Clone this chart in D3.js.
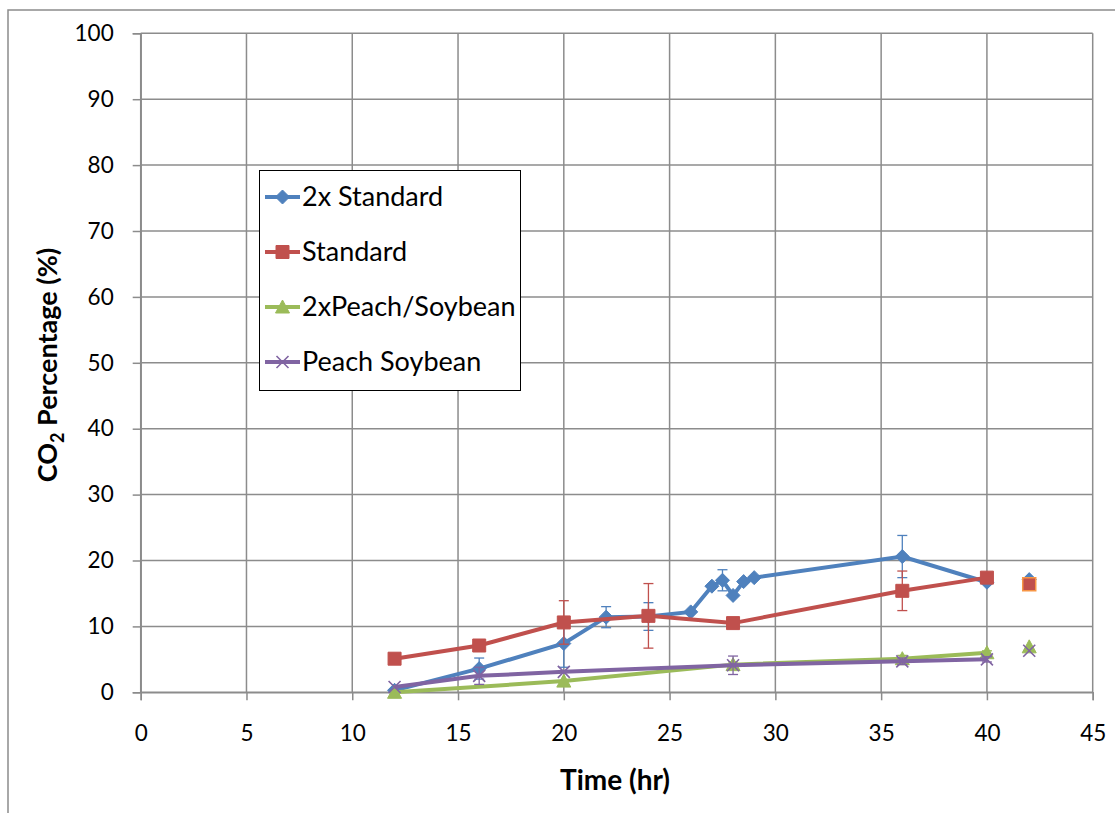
<!DOCTYPE html>
<html>
<head>
<meta charset="utf-8">
<script src="https://cdn.jsdelivr.net/npm/d3@7"></script>
<style>
  body { margin: 0; background: #fff; }
  text { font-family: Lato, "Open Sans", sans-serif; }
</style>
</head>
<body>
<div id="chart"></div>
<script>
// data (null = gap in the line, like Excel)
const std2xTime = [12, 16, 20, 22, 24, 26, 27, 27.5, 28, 28.5, 29, 36, 40, 41, 42];
const std2xCO2  = [0.3, 3.6, 7.4, 11.4, 11.5, 12.2, 16.1, 17.0, 14.7, 16.8, 17.4, 20.6, 16.7, null, 17.1];
const std2xErr  = [0, 1.6, 3.6, 1.6, 2.1, 0, 0, 1.6, 0, 0, 0, 3.2, 0, 0, 0];

const stdTime = [12, 16, 20, 24, 28, 36, 40, 41, 42];
const stdCO2  = [5.1, 7.1, 10.6, 11.6, 10.5, 15.4, 17.4, null, 16.4];
const stdErr  = [0, 0, 3.3, 4.9, 0, 3.0, 0, 0, 0];

const peach2xTime = [12, 20, 28, 36, 40, 41, 42];
const peach2xCO2  = [0, 1.7, 4.2, 5.1, 6.0, null, 6.9];
const peach2xErr  = [0, 0, 0.4, 0.5, 0.3, 0, 0];

const peachTime = [12, 16, 20, 28, 36, 40, 41, 42];
const peachCO2  = [0.8, 2.5, 3.1, 4.1, 4.7, 5.0, null, 6.3];
const peachErr  = [0, 1.3, 0, 1.4, 0.5, 0.4, 0, 0];

const seriesNames = ["2x Standard", "Standard", "2xPeach/Soybean", "Peach Soybean"];
const xTicks = d3.range(0, 46, 5);
const yTicks = d3.range(0, 101, 10);

const width = 1115, height = 813;
const margin = {left: 140.7, right: 1115 - 1092.7, top: 33.3, bottom: 813 - 692.3};

const colors = ["#4F81BD", "#C0504D", "#9BBB59", "#8064A2"];
const shapes = ["diamond", "square", "triangle", "cross"];

function pack(t, v, e) {
  return t.map((x, i) => ({x: x, y: v[i], err: e[i]}));
}
const series = [
  pack(std2xTime, std2xCO2, std2xErr),
  pack(stdTime, stdCO2, stdErr),
  pack(peach2xTime, peach2xCO2, peach2xErr),
  pack(peachTime, peachCO2, peachErr)
];

const svg = d3.select("#chart").append("svg")
  .attr("width", width).attr("height", height);

// chart area border
svg.append("rect")
  .attr("x", 8).attr("y", 10).attr("width", 1130).attr("height", 830)
  .attr("fill", "none").attr("stroke", "#8c8c8c").attr("stroke-width", 1.5);

let xScale = d3.scaleLinear().domain([0, 45]).range([margin.left, width - margin.right]);
let yScale = d3.scaleLinear().domain([0, 100]).range([height - margin.bottom, margin.top]);

// gridlines
svg.append("g").selectAll("line").data(yTicks).enter().append("line")
  .attr("x1", xScale(0)).attr("x2", xScale(45))
  .attr("y1", d => yScale(d)).attr("y2", d => yScale(d))
  .attr("stroke", "#8c8c8c").attr("stroke-width", 1.5);
svg.append("g").selectAll("line").data(xTicks).enter().append("line")
  .attr("y1", yScale(0)).attr("y2", yScale(100))
  .attr("x1", d => xScale(d)).attr("x2", d => xScale(d))
  .attr("stroke", "#8c8c8c").attr("stroke-width", 1.5);

// axes
const yAxis = svg.append("g")
  .attr("transform", `translate(${margin.left},0)`)
  .call(d3.axisLeft(yScale).tickValues(yTicks).tickSize(8).tickPadding(19));
const xAxis = svg.append("g")
  .attr("transform", `translate(0,${height - margin.bottom})`)
  .call(d3.axisBottom(xScale).tickValues(xTicks).tickSize(8).tickPadding(25));
[xAxis, yAxis].forEach(a => {
  a.select(".domain").attr("stroke", "#8c8c8c").attr("stroke-width", 1.5);
  a.selectAll(".tick line").attr("stroke", "#8c8c8c").attr("stroke-width", 1.5);
  a.selectAll("text").attr("font-size", "22.5px").attr("fill", "#000")
    .style("font-family", "Lato, sans-serif");
});

// axis titles
svg.append("text")
  .attr("x", 615).attr("y", 790)
  .attr("text-anchor", "middle")
  .attr("font-size", "28px").attr("font-weight", "bold")
  .text("Time (hr)");

const yTitle = svg.append("text")
  .attr("transform", "translate(57,365) rotate(-90)")
  .attr("text-anchor", "middle")
  .attr("font-size", "27px").attr("font-weight", "bold");
yTitle.append("tspan").text("CO");
yTitle.append("tspan").attr("font-size", "18px").attr("dy", 7).text("2");
yTitle.append("tspan").attr("dy", -7).text(" Percentage (%)");

function markerPath(shape) {
  if (shape === "diamond") return "M0,-7L7,0L0,7L-7,0Z";
  if (shape === "square") return "M-6.5,-6.5H6.5V6.5H-6.5Z";
  if (shape === "triangle") return "M0,-7L7,6H-7Z";
  return "M-6,-6L6,6M-6,6L6,-6";
}

function drawMarker(g, shape, color, extraStroke) {
  if (shape === "cross") {
    g.append("path").attr("d", markerPath(shape))
      .attr("stroke", color).attr("stroke-width", 1.6).attr("fill", "none");
  } else {
    g.append("path").attr("d", markerPath(shape))
      .attr("fill", color)
      .attr("stroke", extraStroke || color).attr("stroke-width", extraStroke ? 1.5 : 1);
  }
}

const line = d3.line()
  .defined(d => d.y !== null)
  .x(d => xScale(d.x))
  .y(d => yScale(d.y));

series.forEach((data, s) => {
  const g = svg.append("g");
  const pts = data.filter(d => d.y !== null);

  // error bars
  const eb = g.selectAll(".err").data(pts.filter(d => d.err > 0)).enter().append("g");
  eb.append("line")
    .attr("x1", d => xScale(d.x)).attr("x2", d => xScale(d.x))
    .attr("y1", d => yScale(d.y + d.err)).attr("y2", d => yScale(d.y - d.err))
    .attr("stroke", colors[s]).attr("stroke-width", 1.3);
  [1, -1].forEach(sign => {
    eb.append("line")
      .attr("x1", d => xScale(d.x) - 5).attr("x2", d => xScale(d.x) + 5)
      .attr("y1", d => yScale(d.y + sign * d.err)).attr("y2", d => yScale(d.y + sign * d.err))
      .attr("stroke", colors[s]).attr("stroke-width", 1.3);
  });

  g.append("path").datum(data)
    .attr("d", line)
    .attr("fill", "none").attr("stroke", colors[s]).attr("stroke-width", 4);

  g.selectAll(".pt").data(pts).enter().append("g")
    .attr("transform", d => `translate(${xScale(d.x)},${yScale(d.y)})`)
    .each(function(d) {
      const orange = (s === 1 && d.x === 42) ? "#F79646" : null;
      drawMarker(d3.select(this), shapes[s], colors[s], orange);
    });
});

// legend
const legend = svg.append("g");
legend.append("rect")
  .attr("x", 259.5).attr("y", 170.5).attr("width", 261).attr("height", 220)
  .attr("fill", "#fff").attr("stroke", "#000").attr("stroke-width", 1);
const legendY = d3.scalePoint().domain(seriesNames).range([197, 362]);
seriesNames.forEach((name, s) => {
  const y = legendY(name);
  legend.append("line")
    .attr("x1", 265).attr("x2", 300).attr("y1", y).attr("y2", y)
    .attr("stroke", colors[s]).attr("stroke-width", 4);
  const m = legend.append("g").attr("transform", `translate(282.5,${y})`);
  drawMarker(m, shapes[s], colors[s]);
  legend.append("text")
    .attr("x", 302).attr("y", y + 9)
    .attr("font-size", "27px")
    .text(name);
});
</script>
</body>
</html>
